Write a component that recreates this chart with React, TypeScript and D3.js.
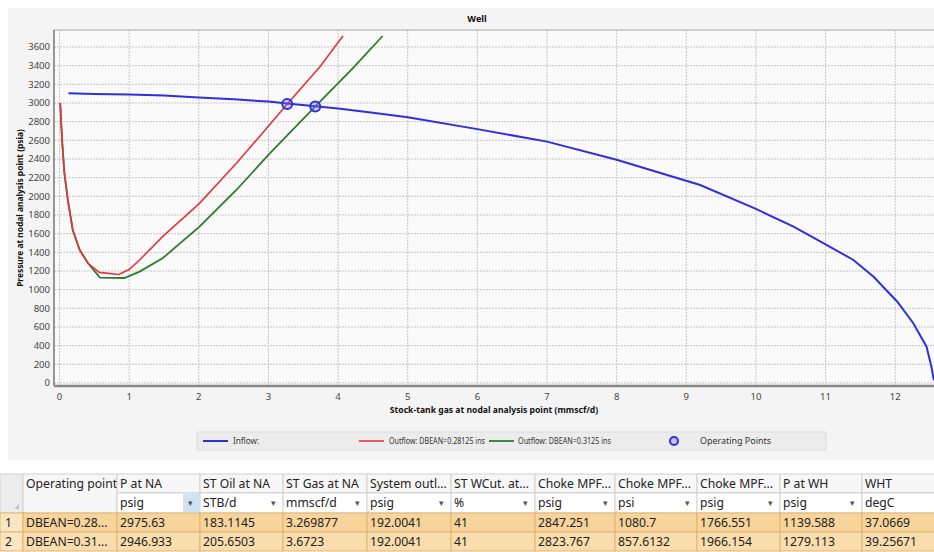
import React from "react";
import * as d3 from "d3";

// ---- Chart data ----
const inflowX = [0.13, 0.5, 1, 1.5, 2, 2.5, 3, 3.27, 3.67, 4, 4.5, 5, 6, 7, 8, 9.2, 10, 10.54, 11, 11.4, 11.69, 12.03, 12.26, 12.45, 12.52, 12.555];
const inflowP = [3104, 3097, 3090, 3080, 3060, 3040, 3015, 2995, 2966, 2940, 2895, 2848, 2720, 2586, 2392, 2121, 1865, 1675, 1486, 1318, 1139, 871, 640, 389, 175, 30];

const out1X = [0.01, 0.04, 0.07, 0.12, 0.19, 0.29, 0.41, 0.57, 0.85, 1.0, 1.15, 1.48, 2.01, 2.54, 2.87, 3.27, 3.74, 4.07];
const out1P = [3000, 2570, 2250, 1960, 1640, 1425, 1283, 1185, 1163, 1215, 1318, 1568, 1925, 2354, 2639, 2990, 3389, 3718];

const out2X = [0.01, 0.04, 0.07, 0.12, 0.19, 0.29, 0.41, 0.58, 0.93, 1.15, 1.48, 2.01, 2.54, 3.02, 3.67, 4.21, 4.64];
const out2P = [3000, 2570, 2250, 1960, 1640, 1425, 1283, 1130, 1125, 1193, 1336, 1675, 2068, 2461, 2962, 3372, 3718];

const opX = [3.269877, 3.6723];
const opP = [2990.3, 2961.6];

const yTicks = d3.range(0, 3601, 200);
const xTicks = d3.range(0, 13, 1);

const legendLabels = ["Inflow:", "Outflow: DBEAN=0.28125 ins", "Outflow: DBEAN=0.3125 ins", "Operating Points"];

// ---- Table data ----
const colHeaders = ["Operating point", "P at NA", "ST Oil at NA", "ST Gas at NA", "System outl...", "ST WCut. at...", "Choke MPF...", "Choke MPF...", "Choke MPF...", "P at WH", "WHT"];
const colUnits = ["", "psig", "STB/d", "mmscf/d", "psig", "%", "psig", "psi", "psig", "psig", "degC"];
const row1 = ["DBEAN=0.28...", "2975.63", "183.1145", "3.269877", "192.0041", "41", "2847.251", "1080.7", "1766.551", "1139.588", "37.0669"];
const row2 = ["DBEAN=0.31...", "2946.933", "205.6503", "3.6723", "192.0041", "41", "2823.767", "857.6132", "1966.154", "1279.113", "39.25671"];
const rowNums = ["1", "2"];

const W = 934;
const H = 552;

const BLUE = "#2f2fe0";
const RED = "#e8323c";
const GREEN = "#2b7d2b";

export default function App() {
  const plotL = 54, plotR = 934, plotT = 30, plotB = 386;
  const x = d3.scaleLinear().domain([0, 12]).range([59.5, 895.2]);
  const y = d3.scaleLinear().domain([0, 3600]).range([383, 47]);

  const line = d3.line<[number, number]>().x(d => x(d[0])).y(d => y(d[1])).curve(d3.curveLinear);
  const inflow = line(inflowX.map((v, i) => [v, inflowP[i]]) as [number, number][]) || "";
  const out1 = line(out1X.map((v, i) => [v, out1P[i]]) as [number, number][]) || "";
  const out2 = line(out2X.map((v, i) => [v, out2P[i]]) as [number, number][]) || "";

  const font = "'Noto Sans', 'Open Sans', sans-serif";

  // table geometry
  const colB = [0, 23, 117, 200, 283, 367, 451, 535, 615, 697, 780, 862, 945];
  const rT = [474, 493, 513, 532, 551];
  const border = "#d2d2d2";
  const orangeBorder = "#e2b36e";

  const legendY = 441;
  const lfs = 8.2;

  return (
    <svg width={W} height={H} style={{ position: "absolute", left: 0, top: 0, background: "#ffffff" }} fontFamily={font}>
      {/* chart panel */}
      <rect x={8} y={8} width={W - 8} height={452} fill="#f4f4f4" />
      <rect x={plotL} y={plotT} width={plotR - plotL} height={plotB - plotT} fill="#fafafa" />

      {/* title */}
      <text x={477} y={22} textAnchor="middle" fontSize={9} fontWeight="bold" fill="#111">Well</text>

      {/* grid */}
      {yTicks.map(t => (
        <line key={"gy" + t} x1={plotL} x2={plotR} y1={y(t)} y2={y(t)} stroke="#c6c6c6" strokeDasharray="2,1" strokeWidth={1} />
      ))}
      {xTicks.map(t => (
        <line key={"gx" + t} x1={x(t)} x2={x(t)} y1={plotT} y2={plotB} stroke="#c6c6c6" strokeDasharray="2,1" strokeWidth={1} />
      ))}

      {/* borders */}
      <line x1={plotL} x2={plotR} y1={plotT} y2={plotT} stroke="#a8a8a8" strokeWidth={1} />
      <line x1={plotL} x2={plotL} y1={plotT} y2={plotB} stroke="#777" strokeWidth={1.5} />
      <line x1={plotL} x2={plotR} y1={plotB} y2={plotB} stroke="#888" strokeWidth={2.5} />

      {/* tick labels */}
      {yTicks.map(t => (
        <text key={"ty" + t} x={50} y={y(t) + 3.3} textAnchor="end" fontSize={9.5} fill="#444">{t}</text>
      ))}
      {xTicks.map(t => (
        <text key={"tx" + t} x={x(t)} y={400} textAnchor="middle" fontSize={9.5} fill="#444">{t}</text>
      ))}

      {/* axis titles */}
      <text x={(plotL + plotR) / 2} y={413} textAnchor="middle" fontSize={8.6} fontWeight="bold" fill="#111">Stock-tank gas at nodal analysis point (mmscf/d)</text>
      <text transform={`translate(23, ${(plotT + plotB) / 2}) rotate(-90)`} textAnchor="middle" fontSize={8.4} fontWeight="bold" fill="#111">Pressure at nodal analysis point (psia)</text>

      {/* series */}
      <path d={out2} fill="none" stroke={GREEN} strokeWidth={1.8} />
      <path d={out1} fill="none" stroke={RED} strokeWidth={1.6} />
      <path d={inflow} fill="none" stroke={BLUE} strokeWidth={2} />
      {opX.map((v, i) => (
        <circle key={"op" + i} cx={x(v)} cy={y(opP[i])} r={5} fill="rgba(120,120,200,0.35)" stroke={BLUE} strokeWidth={2} />
      ))}

      {/* legend */}
      <rect x={197} y={432} width={629} height={18} fill="#ececec" stroke="#dcdcdc" />
      <line x1={203} x2={228} y1={legendY} y2={legendY} stroke={BLUE} strokeWidth={2} />
      <text x={233} y={legendY + 3} fontSize={lfs} fill="#333">{legendLabels[0]}</text>
      <line x1={359} x2={384} y1={legendY} y2={legendY} stroke={RED} strokeWidth={1.6} />
      <text x={389} y={legendY + 3} fontSize={lfs} fill="#333" textLength={96} lengthAdjust="spacingAndGlyphs">{legendLabels[1]}</text>
      <line x1={489} x2={514} y1={legendY} y2={legendY} stroke={GREEN} strokeWidth={1.8} />
      <text x={518} y={legendY + 3} fontSize={lfs} fill="#333" textLength={93} lengthAdjust="spacingAndGlyphs">{legendLabels[2]}</text>
      <circle cx={674} cy={legendY} r={4} fill="rgba(120,120,200,0.35)" stroke={BLUE} strokeWidth={2} />
      <text x={700} y={legendY + 3} fontSize={lfs} fill="#333" textLength={71} lengthAdjust="spacingAndGlyphs">{legendLabels[3]}</text>

      {/* table: corner */}
      <rect x={colB[0]} y={rT[0]} width={colB[1] - colB[0]} height={rT[2] - rT[0]} fill="#ececec" stroke={border} />
      <path d={`M ${colB[1] - 4} ${rT[2] - 9} L ${colB[1] - 4} ${rT[2] - 4} L ${colB[1] - 9} ${rT[2] - 4} Z`} fill="#c4c4c4" />

      {/* header row 1 */}
      {colHeaders.map((h, i) => {
        const isFirst = i === 0;
        return (
          <g key={"h" + i}>
            <rect x={colB[i + 1]} y={rT[0]} width={colB[i + 2] - colB[i + 1]} height={isFirst ? rT[2] - rT[0] : rT[1] - rT[0]} fill="#f7f7f7" stroke={border} />
            <text x={colB[i + 1] + 3} y={rT[0] + 14} fontSize={12.2} fill="#222">{h}</text>
          </g>
        );
      })}
      {/* header row 2 (units) */}
      {colUnits.map((u, i) => {
        if (i === 0) return null;
        const l = colB[i + 1], r = colB[i + 2];
        return (
          <g key={"u" + i}>
            <rect x={l} y={rT[1]} width={r - l} height={rT[2] - rT[1]} fill="#ffffff" stroke={border} />
            {i === 1 && <rect x={r - 17} y={rT[1] + 1} width={16} height={rT[2] - rT[1] - 2} fill="#cfe3f5" />}
            <text x={l + 3} y={rT[1] + 14} fontSize={12.2} fill="#222">{u}</text>
            {r - 12 < W - 8 && <text x={r - 12} y={rT[1] + 13} fontSize={9} fill="#555">▾</text>}
          </g>
        );
      })}

      {/* data rows */}
      {[row1, row2].map((row, ri) => {
        const top = rT[2 + ri], bot = rT[3 + ri];
        const fill = ri === 0 ? "#f6d49b" : "#f9ddad";
        return (
          <g key={"r" + ri}>
            <rect x={colB[0]} y={top} width={colB[1] - colB[0]} height={bot - top} fill="#fbe6c3" stroke={orangeBorder} />
            <text x={5} y={top + 14} fontSize={12.2} fill="#222">{rowNums[ri]}</text>
            {row.map((v, i) => (
              <g key={"c" + ri + "_" + i}>
                <rect x={colB[i + 1]} y={top} width={colB[i + 2] - colB[i + 1]} height={bot - top} fill={fill} stroke={orangeBorder} />
                <text x={colB[i + 1] + 3} y={top + 14} fontSize={12.2} fill="#222">{v}</text>
              </g>
            ))}
          </g>
        );
      })}
    </svg>
  );
}
